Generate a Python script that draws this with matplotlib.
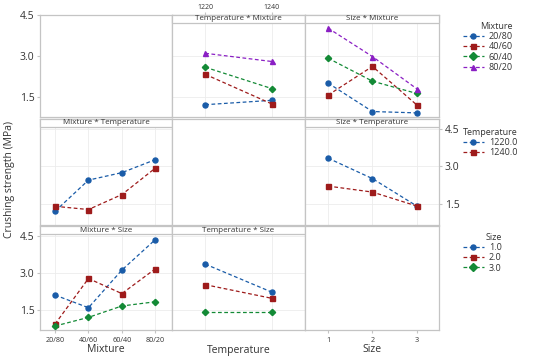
import matplotlib
matplotlib.use("Agg")
import matplotlib.pyplot as plt
from matplotlib.patches import Rectangle
from matplotlib.lines import Line2D

plt.rcParams['font.family'] = ['Open Sans', 'DejaVu Sans']

mixtures = ["20/80", "40/60", "60/40", "80/20"]
temps = [1220, 1240]
sizes = [1, 2, 3]
temp_labels = ["1220.0", "1240.0"]
size_labels = ["1.0", "2.0", "3.0"]

# Temperature * Mixture (x = temperature, one line per mixture)
tm_2080 = [1.22, 1.38]
tm_4060 = [2.33, 1.25]
tm_6040 = [2.59, 1.81]
tm_8020 = [3.10, 2.80]

# Size * Mixture (x = size, one line per mixture)
sm_2080 = [2.01, 0.97, 0.92]
sm_4060 = [1.57, 2.62, 1.21]
sm_6040 = [2.92, 2.08, 1.63]
sm_8020 = [4.02, 2.98, 1.80]

# Mixture * Temperature (x = mixture, one line per temperature)
mt_1220 = [1.20, 2.45, 2.75, 3.27]
mt_1240 = [1.40, 1.27, 1.87, 2.93]

# Size * Temperature
st_1220 = [3.33, 2.51, 1.41]
st_1240 = [2.21, 1.97, 1.41]

# Mixture * Size
ms_1 = [2.11, 1.60, 3.12, 4.35]
ms_2 = [0.94, 2.78, 2.17, 3.17]
ms_3 = [0.86, 1.21, 1.67, 1.84]

# Temperature * Size
ts_1 = [3.36, 2.23]
ts_2 = [2.53, 1.98]
ts_3 = [1.41, 1.41]

colors = ['#1a5ca8', '#9e1b1b', '#138a36', '#8a1fc4']
markers = ['o', 's', 'D', '^']
spine_col = '#c4c4c4'
grid_col = '#ececec'

W, H = 550, 360
fig = plt.figure(figsize=(5.5, 3.6), dpi=100)

cols = [(40, 172), (172, 305), (305, 439)]
rows = [(15, 117), (119, 225), (226, 330)]
ylims = [(0.77, 4.5), (0.65, 4.9), (0.7, 4.9)]
mix_x = list(range(len(mixtures)))
xlims = [(-0.45, 3.5), (1210, 1250), (0.48, 3.5)]
xticks = [mix_x, temps, sizes]


def make_ax(r, c):
    x0, x1 = cols[c]
    y0, y1 = rows[r]
    ax = fig.add_axes([x0 / W, 1 - y1 / H, (x1 - x0) / W, (y1 - y0) / H])
    ax.set_xlim(*xlims[c])
    ax.set_ylim(*ylims[r])
    ax.set_xticks(xticks[c])
    ax.set_yticks([1.5, 3.0, 4.5])
    ax.tick_params(left=False, bottom=False, labelleft=False, labelbottom=False,
                   length=2, color=spine_col)
    for s in ax.spines.values():
        s.set_color(spine_col)
        s.set_linewidth(0.9)
    return ax


def data_panel(ax, title):
    ax.grid(True, color=grid_col, linewidth=0.6)
    ax.set_axisbelow(True)
    h = 8 / (ax.get_position().height * H)
    ax.add_patch(Rectangle((0, 1 - h), 1, h, transform=ax.transAxes,
                           facecolor='white', edgecolor=spine_col,
                           linewidth=0.9, zorder=5, clip_on=False))
    ax.text(0.5, 1 - h / 2, title, transform=ax.transAxes, ha='center',
            va='center', fontsize=5.8, color='#333333', zorder=6)


def draw(ax, x, series):
    for i, y in enumerate(series):
        ax.plot(x, y, linestyle='--', color=colors[i], marker=markers[i],
                markersize=3.6 if markers[i] != 'D' else 3.2, linewidth=0.9,
                dashes=(3, 2), zorder=3)


axes = {}
for r in range(3):
    for c in range(3):
        axes[(r, c)] = make_ax(r, c)

ax = axes[(0, 1)]
data_panel(ax, "Temperature * Mixture")
draw(ax, temps, [tm_2080, tm_4060, tm_6040, tm_8020])
ax.tick_params(axis='x', top=True, labeltop=True, labelsize=5, labelcolor='#333333', pad=1)
ax.set_xticklabels([str(t) for t in temps])

ax = axes[(0, 2)]
data_panel(ax, "Size * Mixture")
draw(ax, sizes, [sm_2080, sm_4060, sm_6040, sm_8020])

ax = axes[(1, 0)]
data_panel(ax, "Mixture * Temperature")
draw(ax, mix_x, [mt_1220, mt_1240])

ax = axes[(1, 2)]
data_panel(ax, "Size * Temperature")
draw(ax, sizes, [st_1220, st_1240])
ax.tick_params(axis='y', right=True, labelright=True, labelsize=7.5, labelcolor='#333333', pad=2)
ax.set_yticklabels(["1.5", "3.0", "4.5"])

ax = axes[(2, 0)]
data_panel(ax, "Mixture * Size")
draw(ax, mix_x, [ms_1, ms_2, ms_3])
ax.tick_params(axis='x', bottom=True, labelbottom=True, labelsize=5.2, labelcolor='#333333', pad=3)
ax.set_xticklabels(mixtures)

ax = axes[(2, 1)]
data_panel(ax, "Temperature * Size")
draw(ax, temps, [ts_1, ts_2, ts_3])

ax = axes[(2, 2)]
ax.tick_params(axis='x', bottom=True, labelbottom=True, labelsize=5.2, labelcolor='#333333', pad=3)
ax.set_xticklabels([str(s) for s in sizes])

for r in (0, 2):
    ax = axes[(r, 0)]
    ax.tick_params(axis='y', left=True, labelleft=True, labelsize=7.5, labelcolor='#333333', pad=2)
    ax.set_yticklabels(["1.5", "3.0", "4.5"])

fig.text(10 / W, 0.5, "Crushing strength (MPa)", rotation=90, ha='center',
         va='center', fontsize=7.5, color='#333333')
for c, name in enumerate(["Mixture", "Temperature", "Size"]):
    fig.text((cols[c][0] + cols[c][1]) / 2 / W, 1 - 350 / H, name, ha='center',
             va='center', fontsize=7.5, color='#333333')


def legend(title, labels, ypix):
    handles = [Line2D([], [], linestyle='--', dashes=(3, 2), color=colors[i],
                      marker=markers[i], markersize=3.6, linewidth=0.9)
               for i in range(len(labels))]
    leg = fig.legend(handles, labels, title=title, loc='upper left',
                     bbox_to_anchor=(458 / W, 1 - ypix / H), frameon=False,
                     fontsize=6.5, title_fontsize=6.5, handlelength=2.4,
                     handletextpad=0.5, labelspacing=0.15, borderpad=0,
                     alignment='right')
    for t in leg.get_texts():
        t.set_color('#333333')
    leg.get_title().set_color('#333333')


legend("Mixture", mixtures, 17)
legend("Temperature", temp_labels, 123)
legend("Size", size_labels, 228)

fig.savefig("out.png", dpi=100)
